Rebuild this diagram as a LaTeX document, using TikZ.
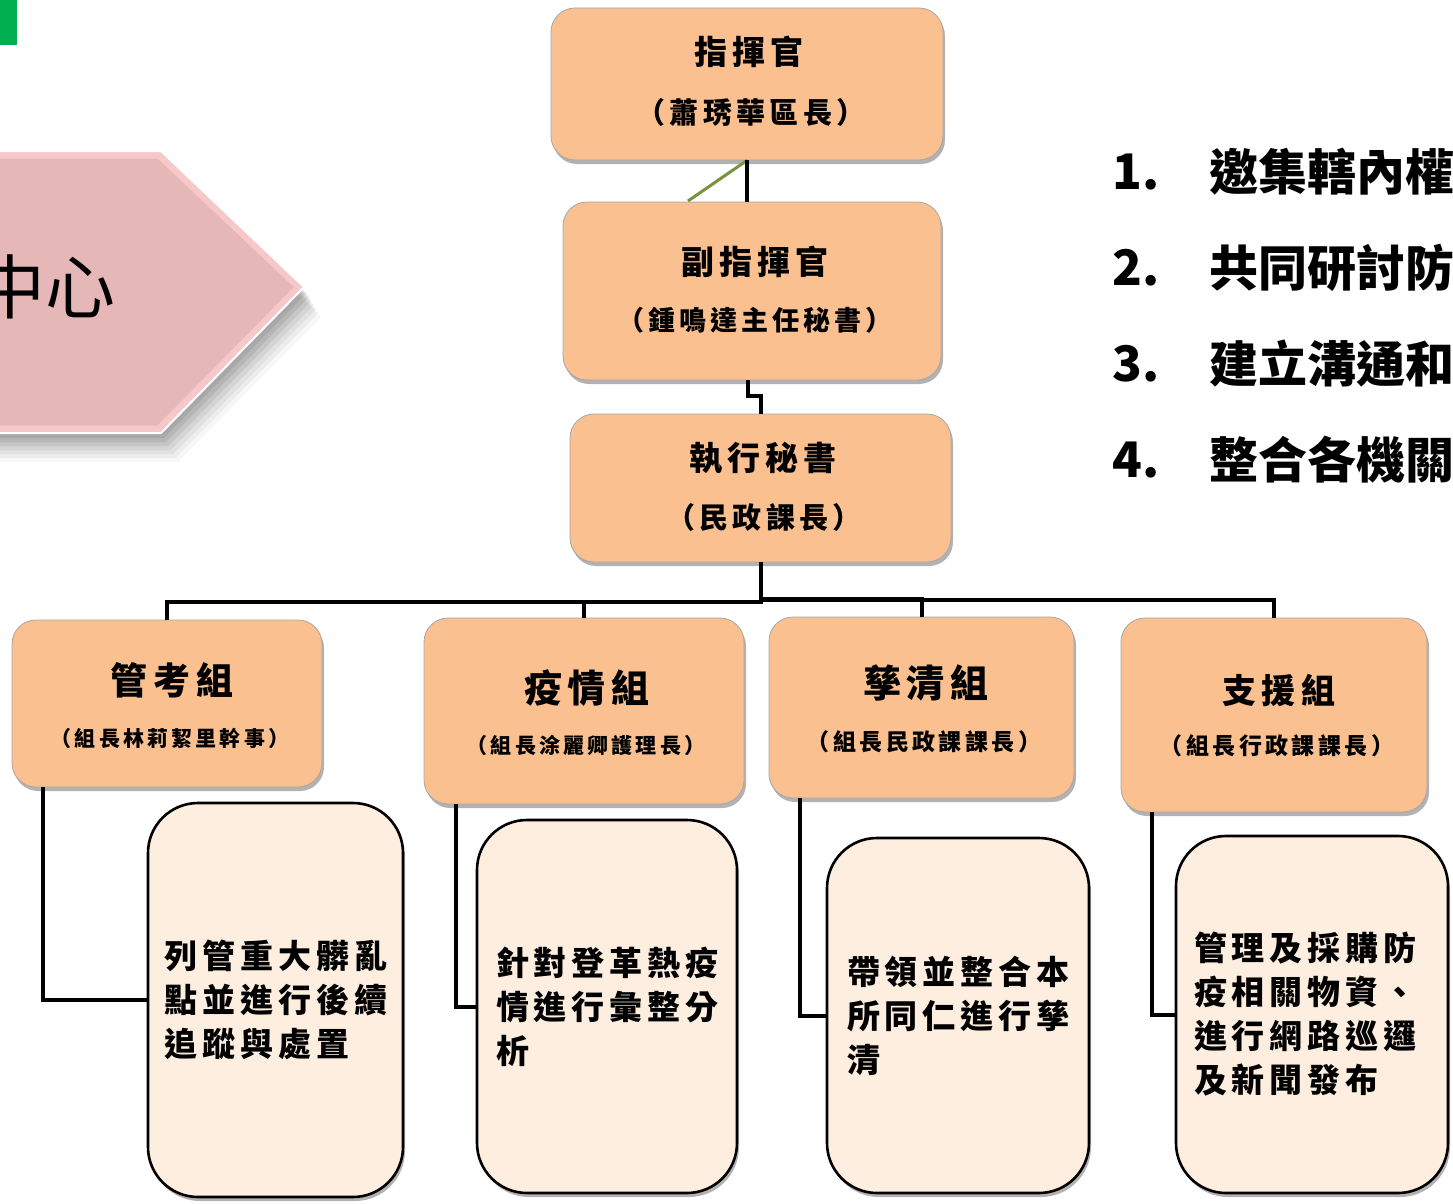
\documentclass[tikz,border=0pt]{standalone}
\usepackage{fontspec}
\setmainfont{Noto Sans CJK TC}
\newfontfamily\kai[LetterSpace=15]{Noto Sans CJK TC}
\usetikzlibrary{shadows}
\definecolor{ofill}{RGB}{250,192,144}
\definecolor{cfill}{RGB}{253,238,224}
\definecolor{pfill}{RGB}{229,184,183}
\definecolor{prim}{RGB}{247,200,201}
\definecolor{gbar}{RGB}{0,176,80}
\definecolor{gline}{RGB}{119,147,60}
\tikzset{
  obox/.style={draw=black!35, line width=0.8pt, fill=ofill, rounded corners=24pt,
    drop shadow={shadow xshift=2pt, shadow yshift=-4pt, opacity=0.3, fill=black}},
  cbox/.style={draw=black, line width=2.6pt, fill=cfill, rounded corners=50pt,
    drop shadow={shadow xshift=2pt, shadow yshift=-4pt, opacity=0.3, fill=black},
    align=left, text width=222pt, inner sep=0pt,
    font=\kai\bfseries\fontsize{33}{44}\selectfont},
  wire/.style={line width=4pt, black},
  ttl/.style={font=\kai\bfseries\fontsize{#1}{#1}\selectfont, inner sep=0pt},
  lst/.style={font=\bfseries\fontsize{49}{49}\selectfont, inner sep=0pt, anchor=west}
}
\begin{document}
\begin{tikzpicture}[x=1pt,y=-1pt]
\useasboundingbox (0,0) rectangle (1453,1204);
\clip (0,0) rectangle (1453,1204);
% green tab
\fill[gbar] (0,0) rectangle (17,45);
% chevron shadow
\foreach \o/\a in {30/0.03,26/0.04,22/0.05,18/0.06,14/0.07,10/0.08,6/0.08}{
  \fill[black, opacity=\a] (-60,152+\o) -- (160+\o*0.6,152+\o) -- (303+\o*0.6,287+\o) -- (160+\o*0.6,432+\o) -- (-60,432+\o) -- cycle;
}
% chevron
\path[fill=pfill, draw=prim, line width=7pt] (-60,155) -- (159,155) -- (299,287) -- (159,429) -- (-60,429) -- cycle;
\draw[white, line width=2pt] (-60,151) -- (161,151) -- (304,287) -- (161,433) -- (-60,433);
\node[font=\fontsize{70}{70}\selectfont, inner sep=0pt] (hub) at (46,287) {中心};
% top level boxes
\node[obox, minimum width=392pt, minimum height=152pt] (cmd) at (747,84) {};
\node[obox, minimum width=378pt, minimum height=178pt] (vice) at (752,291) {};
\node[obox, minimum width=381pt, minimum height=148pt] (exec) at (760.5,488) {};
\node[ttl=33] (cmdA) at (749,52) {指揮官};
\node[ttl=29] (cmdB) at (751,112) {（蕭琇華區長）};
\node[ttl=33] (viceA) at (755,262) {副指揮官};
\node[ttl=27] (viceB) at (755,320) {（鍾鳴達主任秘書）};
\node[ttl=33] (execA) at (763,458) {執行秘書};
\node[ttl=29] (execB) at (764,517) {（民政課長）};
% group boxes
\node[obox, minimum width=310pt, minimum height=167pt] (g1) at (167,703.5) {};
\node[obox, minimum width=320pt, minimum height=186pt] (g2) at (584,711) {};
\node[obox, minimum width=305pt, minimum height=181pt] (g3) at (921.5,707.5) {};
\node[obox, minimum width=306pt, minimum height=194pt] (g4) at (1274,715) {};
\node[ttl=37] (g1A) at (172,680) {管考組};
\node[ttl=21] (g1B) at (170,738) {（組長林莉絜里幹事）};
\node[ttl=38] (g2A) at (587,688) {疫情組};
\node[ttl=21] (g2B) at (586,745) {（組長涂麗卿護理長）};
\node[ttl=38] (g3A) at (926,683) {孳清組};
\node[ttl=23] (g3B) at (924,742) {（組長民政課課長）};
\node[ttl=34] (g4A) at (1279,690) {支援組};
\node[ttl=23] (g4B) at (1277,746) {（組長行政課課長）};
% task boxes
\node[cbox, minimum width=255pt, minimum height=394pt] (c1) at (275.5,1000) {列管重大髒亂\\點並進行後續\\追蹤與處置};
\node[cbox, minimum width=260pt, minimum height=373pt] (c2) at (607,1006.5) {針對登革熱疫\\情進行彙整分\\析};
\node[cbox, minimum width=262pt, minimum height=355pt] (c3) at (958,1015.5) {帶領並整合本\\所同仁進行孳\\清};
\node[cbox, minimum width=272pt, minimum height=357pt, text width=236pt] (c4) at (1312,1014.5) {管理及採購防\\疫相關物資、\\進行網路巡邏\\及新聞發布};
% connectors
\coordinate (gEnd) at (688,201);
\draw[gline, line width=3pt] (cmd.south) -- (gEnd);
\draw[wire] (cmd.south) -- (cmd.south |- vice.north);
\draw[wire] ([xshift=-4pt]vice.south) -- ++(0,16) -| (exec.north);
\draw[wire] (exec.south) -- ++(0,40) -| (g1.north);
\draw[wire] (exec.south) -- ++(0,40) -| (g2.north);
\draw[wire] (exec.south) -- ++(0,37) -| (g3.north);
\draw[wire] (exec.south) -- ++(0,38) -| (g4.north);
\draw[wire] ([xshift=31pt]g1.south west) |- (c1.west);
\draw[wire] ([xshift=32pt]g2.south west) |- (c2.west);
\draw[wire] ([xshift=31pt]g3.south west) |- (c3.west);
\draw[wire] ([xshift=31pt]g4.south west) |- (c4.west);
% right list
\node[lst] (n1) at (1112,172) {1.};
\node[lst] (n2) at (1112,268) {2.};
\node[lst] (n3) at (1112,364) {3.};
\node[lst] (n4) at (1112,460) {4.};
\node[lst] (l1) at (1209,172) {邀集轄內權};
\node[lst] (l2) at (1209,268) {共同研討防};
\node[lst] (l3) at (1209,364) {建立溝通和};
\node[lst] (l4) at (1209,460) {整合各機關};
\end{tikzpicture}
\end{document}
